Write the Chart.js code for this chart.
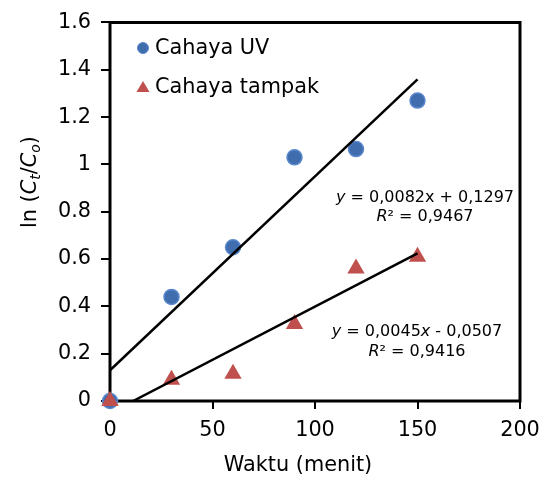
<!DOCTYPE html>
<html><head><meta charset="utf-8">
<script src="https://cdn.jsdelivr.net/npm/chart.js@4"></script>
<style>html,body{margin:0;padding:0;background:#fff}#wrap{width:549px;height:479px}</style>
</head><body><div id="wrap"><canvas id="c" width="549" height="479"></canvas></div>
<script>
const timeMin = [0, 30, 60, 90, 120, 150];
const uvValues = [0, 0.44, 0.65, 1.03, 1.065, 1.27];
const visValues = [0, 0.09, 0.115, 0.325, 0.56, 0.61];
const seriesLabels = ['Cahaya UV', 'Cahaya tampak'];
const uvFit = [0.0082, 0.1297];
const visFit = [0.0045, -0.0507];
const uvEqText = ['0,0082x + 0,1297', '0,9467'];
const visEqText = ['0,0045', ' - 0,0507', '0,9416'];
const xTicks = [0, 50, 100, 150, 200];
const yTicks = [0, 0.2, 0.4, 0.6, 0.8, 1, 1.2, 1.4, 1.6];

const FONT = '"DejaVu Sans", Verdana, sans-serif';
const FS = 20.8;
const BLUE = '#3F6DAE', BLUE_EDGE = '#5A88CC', RED = '#C0504D';

function pts(xs, ys) { return xs.map((x, i) => ({x: x, y: ys[i]})); }
function fitLine(fit, x0, x1) {
  let start = x0;
  if (fit[0] * x0 + fit[1] < 0) start = -fit[1] / fit[0];
  return [{x: start, y: fit[0] * start + fit[1]}, {x: x1, y: fit[0] * x1 + fit[1]}];
}
const xLast = timeMin[timeMin.length - 1];

const overlay = {
  id: 'overlay',
  beforeDatasetsDraw(chart) {
    const ctx = chart.ctx, a = chart.chartArea;
    ctx.save();
    ctx.strokeStyle = '#000'; ctx.lineWidth = 3;
    ctx.strokeRect(a.left, a.top, a.right - a.left, a.bottom - a.top);
    ctx.restore();
  },
  afterDraw(chart) {
    const ctx = chart.ctx;
    ctx.save();
    ctx.fillStyle = '#000';
    ctx.font = FS + 'px ' + FONT; ctx.textAlign = 'center'; ctx.textBaseline = 'middle';
    ctx.fillText('Waktu (menit)', 298, 466);
    ctx.save();
    ctx.translate(31, 182); ctx.rotate(-Math.PI / 2);
    const sub = Math.round(FS * 0.68);
    const parts = [
      {t: 'ln (', f: FS + 'px ' + FONT, dy: 0},
      {t: 'C', f: 'italic ' + FS + 'px ' + FONT, dy: 0},
      {t: 't', f: 'italic ' + sub + 'px ' + FONT, dy: 5},
      {t: '/', f: FS + 'px ' + FONT, dy: 0},
      {t: 'C', f: 'italic ' + FS + 'px ' + FONT, dy: 0},
      {t: 'o', f: 'italic ' + sub + 'px ' + FONT, dy: 5},
      {t: ')', f: FS + 'px ' + FONT, dy: 0}
    ];
    let total = 0;
    parts.forEach(p => { ctx.font = p.f; p.w = ctx.measureText(p.t).width; total += p.w; });
    let x = -total / 2;
    ctx.textAlign = 'left';
    parts.forEach(p => { ctx.font = p.f; ctx.fillText(p.t, x, p.dy); x += p.w; });
    ctx.restore();
    ctx.font = FS + 'px ' + FONT; ctx.textAlign = 'left'; ctx.textBaseline = 'middle';
    ctx.beginPath(); ctx.arc(143, 48, 5.5, 0, Math.PI * 2);
    ctx.fillStyle = BLUE; ctx.fill(); ctx.lineWidth = 1; ctx.strokeStyle = BLUE_EDGE; ctx.stroke();
    ctx.fillStyle = '#000'; ctx.fillText(seriesLabels[0], 155, 49);
    ctx.beginPath(); ctx.moveTo(143, 81); ctx.lineTo(149.5, 92); ctx.lineTo(136.5, 92); ctx.closePath();
    ctx.fillStyle = RED; ctx.fill();
    ctx.fillStyle = '#000'; ctx.fillText(seriesLabels[1], 155, 88);
    function line(segs, cx, cy) {
      let w = 0;
      segs.forEach(s => { ctx.font = s[1] + '16px ' + FONT; s.w = ctx.measureText(s[0]).width; w += s.w; });
      let xx = cx - w / 2;
      segs.forEach(s => { ctx.font = s[1] + '16px ' + FONT; ctx.fillText(s[0], xx, cy); xx += s.w; });
    }
    ctx.textBaseline = 'middle';
    line([['y', 'italic '], [' = ' + uvEqText[0], '']], 425, 198);
    line([['R', 'italic '], ['² = ' + uvEqText[1], '']], 425, 217);
    line([['y', 'italic '], [' = ' + visEqText[0], ''], ['x', 'italic '], [visEqText[1], '']], 417, 332);
    line([['R', 'italic '], ['² = ' + visEqText[2], '']], 417, 352);
    ctx.restore();
  }
};

new Chart(document.getElementById('c'), {
  type: 'scatter',
  data: {
    datasets: [
      {label: 'uvfit', data: fitLine(uvFit, 0, xLast), showLine: true, borderColor: '#000', borderWidth: 2.5, pointRadius: 0, order: 0},
      {label: 'visfit', data: fitLine(visFit, 0, xLast), showLine: true, borderColor: '#000', borderWidth: 2.5, pointRadius: 0, order: 0},
      {label: seriesLabels[1], data: pts(timeMin, visValues), pointStyle: 'triangle', pointRadius: 10, backgroundColor: RED, borderColor: RED, borderWidth: 0, order: 1, clip: false},
      {label: seriesLabels[0], data: pts(timeMin, uvValues), pointStyle: 'circle', pointRadius: 7.5, backgroundColor: BLUE, borderColor: BLUE_EDGE, borderWidth: 1.5, order: 2, clip: false}
    ]
  },
  options: {
    responsive: false, animation: false, devicePixelRatio: 1,
    layout: {padding: {top: 20, right: 29, left: 0, bottom: 0}},
    plugins: {legend: {display: false}, tooltip: {enabled: false}},
    scales: {
      x: {
        type: 'linear', min: 0, max: 200,
        afterBuildTicks: s => { s.ticks = xTicks.map(v => ({value: v})); },
        afterFit: s => { s.height = 78; },
        grid: {drawOnChartArea: false, drawTicks: true, tickLength: 8, color: '#000', lineWidth: 2},
        border: {display: false},
        ticks: {color: '#000', font: {family: FONT, size: FS}, padding: 9, maxRotation: 0}
      },
      y: {
        type: 'linear', min: 0, max: 1.6,
        afterBuildTicks: s => { s.ticks = yTicks.map(v => ({value: v})); },
        afterFit: s => { s.width = 110; },
        grid: {drawOnChartArea: false, drawTicks: true, tickLength: 9, color: '#000', lineWidth: 2},
        border: {display: false},
        ticks: {color: '#000', font: {family: FONT, size: FS}, padding: 10, callback: v => String(+v.toFixed(1))}
      }
    }
  },
  plugins: [overlay]
});
</script></body></html>
